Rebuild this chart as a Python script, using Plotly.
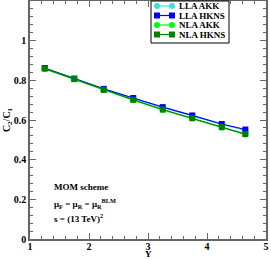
import plotly.graph_objects as go

Y = [1.25, 1.75, 2.25, 2.75, 3.25, 3.75, 4.25, 4.65]
lla_akk = [0.861, 0.808, 0.756, 0.709, 0.663, 0.621, 0.578, 0.549]
lla_hkns = [0.862, 0.809, 0.757, 0.711, 0.665, 0.623, 0.580, 0.552]
nla_akk = [0.858, 0.805, 0.750, 0.700, 0.651, 0.607, 0.562, 0.527]
nla_hkns = [0.859, 0.806, 0.752, 0.702, 0.653, 0.609, 0.564, 0.529]

names = ["LLA AKK", "LLA HKNS", "NLA AKK", "NLA HKNS"]
colors = ["#40E0D0", "#0000FF", "#00FF00", "#008000"]
symbols = ["circle", "square", "circle", "square"]
values = [lla_akk, lla_hkns, nla_akk, nla_hkns]

FONT = "Liberation Serif"
W, H = 271, 260
ML, MR, MT, MB = 30, 5, 1, 21
PW, PH = W - ML - MR, H - MT - MB

fig = go.Figure()
for name, vals, col, sym in zip(names, values, colors, symbols):
    fig.add_trace(go.Scatter(
        x=Y, y=vals, name=name, mode="lines+markers",
        line=dict(color=col, width=1.2),
        marker=dict(color=col, symbol=sym, size=6),
        showlegend=False,
    ))

axis_common = dict(
    showline=True, linecolor="#666666", linewidth=1.5, mirror="allticks",
    ticks="inside", ticklen=6, tickwidth=1, tickcolor="#666666",
    showgrid=False, zeroline=False, automargin=False,
    tickfont=dict(family=FONT, size=10, color="black", weight="bold"),
)

fig.update_layout(
    width=W, height=H,
    margin=dict(l=ML, r=MR, t=MT, b=MB, autoexpand=False),
    paper_bgcolor="white", plot_bgcolor="white",
    showlegend=False,
    xaxis=dict(
        range=[1, 5], dtick=1,
        minor=dict(dtick=0.2, ticks="inside", ticklen=3, tickcolor="#666666"),
        ticklabelstandoff=-3,
        **axis_common,
    ),
    yaxis=dict(
        range=[0, 1.2], dtick=0.2, title=dict(text="C<sub>2</sub>/C<sub>1</sub>", standoff=1,
        font=dict(family=FONT, size=10, color="black", weight="bold")),
        minor=dict(dtick=0.04, ticks="inside", ticklen=3, tickcolor="#666666"),
        tickformat="~g",
        **axis_common,
    ),
)

# manual legend (compact, like the reference)
def px(x):
    return (x - ML) / PW

def py(y):
    return (H - MB - y) / PH

# x-axis title
fig.add_annotation(x=0.5, y=py(260), xref="paper", yref="paper", text="Y",
                   showarrow=False, xanchor="center", yanchor="bottom", yshift=-1,
                   font=dict(family=FONT, size=9, color="black", weight="bold"))

leg_font = dict(family=FONT, size=9, color="black", weight="bold")
fig.add_shape(type="rect", xref="paper", yref="paper",
              x0=px(151), x1=px(229), y0=py(43), y1=py(1),
              line=dict(color="black", width=1), fillcolor="white", layer="above")
rows = [6, 15.5, 25, 34.5]
for name, col, sym, ry in zip(names, colors, symbols, rows):
    fig.add_shape(type="line", xref="paper", yref="paper",
                  x0=px(157), x1=px(172), y0=py(ry), y1=py(ry),
                  line=dict(color=col, width=1.2), layer="above")
    for cx in (157, 172):
        shp = "circle" if sym == "circle" else "rect"
        fig.add_shape(type=shp, xref="paper", yref="paper",
                      x0=px(cx - 3), x1=px(cx + 3), y0=py(ry + 3), y1=py(ry - 3),
                      line=dict(color=col, width=0), fillcolor=col, layer="above")
    fig.add_annotation(x=px(177), y=py(ry), xref="paper", yref="paper", text=name,
                       showarrow=False, xanchor="left", yanchor="middle", font=leg_font)

ann_font = dict(family=FONT, size=9, color="black", weight="bold")
texts = [
    ("MOM scheme", 0.262),
    ("μ<sub>F</sub> = μ<sub>R</sub> = μ<sub>R</sub><sup>BLM</sup>", 0.18),
    ("s = (13 TeV)<sup>2</sup>", 0.105),
]
for t, yv in texts:
    fig.add_annotation(x=1.37, y=yv, xref="x", yref="y", text=t, showarrow=False,
                       xanchor="left", yanchor="middle", font=ann_font)

fig.write_html("out.html", config={"displayModeBar": False},
               post_script="document.body.style.margin='0';")
